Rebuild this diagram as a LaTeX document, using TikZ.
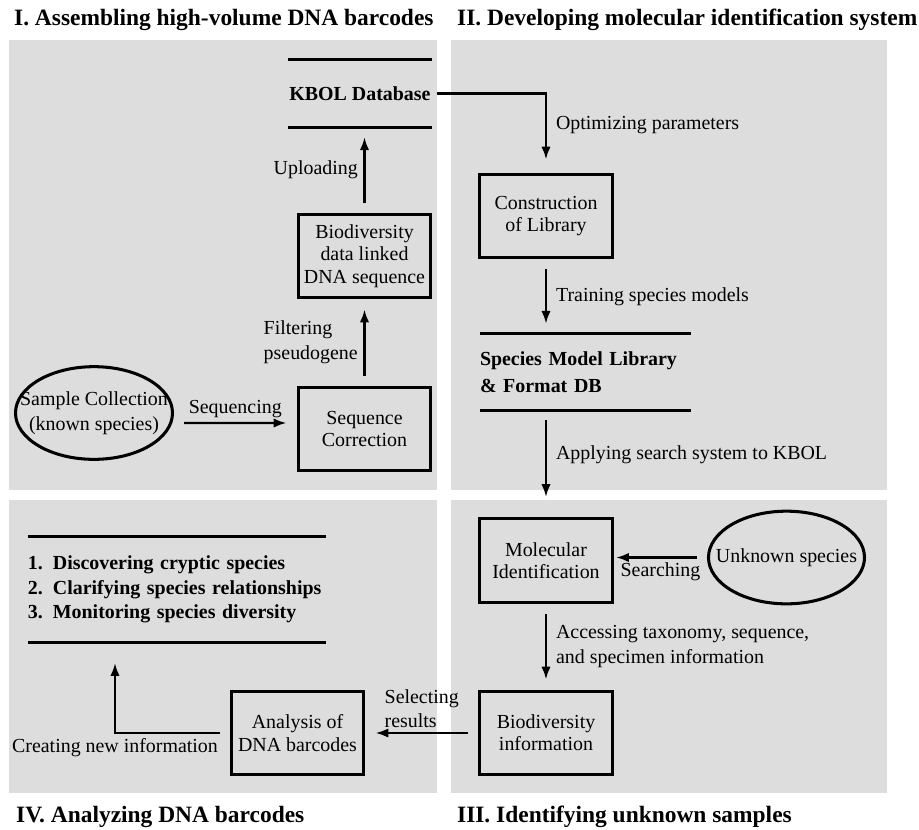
\documentclass[tikz,border=0pt]{standalone}
\usepackage{fontspec}
\setmainfont{Liberation Serif}
\usetikzlibrary{shapes.geometric,arrows.meta}
\definecolor{panel}{RGB}{221,221,221}

\begin{document}
\begin{tikzpicture}[x=0.03cm,y=-0.03cm,
    font=\fontsize{17}{21}\selectfont,
    title/.style={anchor=base west,font=\fontsize{20}{24}\selectfont\bfseries},
    box/.style={draw,line width=2.8pt,minimum width=3.98cm,minimum height=2.51cm,align=center,font=\fontsize{17}{19}\selectfont},
    specimen/.style={draw,ellipse,line width=2.6pt,minimum width=4.68cm,minimum height=2.78cm,inner xsep=-0.55cm,inner ysep=0pt,align=center},
    store/.style={inner xsep=0pt,align=left,font=\fontsize{17}{23}\selectfont\bfseries},
    storeline/.style={line width=2.8pt},
    flow/.style={-{Latex[length=11pt,width=8pt]},line width=2pt,shorten <=0.3cm,shorten >=0.3cm},
    note/.style={align=left}]
        \useasboundingbox (0,0) rectangle (919,829);
        \fill[panel] (9,40) rectangle (437,490);
        \fill[panel] (451,40) rectangle (887,490);
        \fill[panel] (451,500) rectangle (887,793);
        \fill[panel] (9,500) rectangle (437,793);

        \node[title] (tI) at (10,25) {I. Assembling high-volume DNA barcodes};
        \node[title] (tII) at (453,25) {II. Developing molecular identification system};
        \node[title] (tIII) at (453,822) {III. Identifying unknown samples};
        \node[title] (tIV) at (12,822) {IV. Analyzing DNA barcodes};

        \node[store,minimum width=4.29cm,minimum height=2.01cm] (kbol) at (360,93.5) {KBOL Database};
        \node[store,text width=6.33cm,minimum height=2.28cm] (smlib) at (585.5,372) {Species Model Library\\\& Format DB};
        \node[store,text width=8.94cm,minimum height=3.15cm,font=\fontsize{17}{21}\selectfont\bfseries] (uses) at (177,589.5)
            {1. Discovering cryptic species\\2. Clarifying species relationships\\3. Monitoring species diversity};
        \draw[storeline] (kbol.north west) -- (kbol.north east) (kbol.south west) -- (kbol.south east);
        \draw[storeline] (smlib.north west) -- (smlib.north east) (smlib.south west) -- (smlib.south east);
        \draw[storeline] (uses.north west) -- (uses.north east) (uses.south west) -- (uses.south east);

        \node[box] (biolink) at (364.5,256) {Biodiversity\\data linked\\DNA sequence};
        \node[box] (seqcorr) at (364.5,429) {Sequence\\Correction};
        \node[box] (constr) at (546,216) {Construction\\of Library};
        \node[box] (molid) at (546,560.5) {Molecular\\Identification};
        \node[box] (bioinfo) at (546,733) {Biodiversity\\information};
        \node[box] (analysis) at (297.5,733) {Analysis of\\DNA barcodes};
        \node[specimen] (sample) at (94,413) {Sample Collection\\(known species)};
        \node[specimen] (unknown) at (786.5,557.5) {Unknown species};
        \coordinate (usein) at (115,663);

        \draw[flow] ([yshift=-0.3cm]sample.east) -- node[above] {Sequencing} ([yshift=0.18cm]seqcorr.west);
        \draw[flow] (seqcorr.north) -- node[left=0.05cm,note] {Filtering\\pseudogene} (biolink.south);
        \draw[flow] (biolink.north) -- node[left=0.05cm] {Uploading} (biolink.north |- kbol.south);
        \draw[flow,shorten <=0.15cm,shorten >=0.39cm] (kbol.east) -| node[pos=0.7,right=0.15cm] {Optimizing parameters} (constr.north);
        \draw[flow] (constr.south) -- node[right=0.15cm] {Training species models} (constr.south |- smlib.north);
        \draw[flow,shorten >=0.6cm] (smlib.south -| molid.north) -- node[pos=0.42,right=0.15cm] {Applying search system to KBOL} (molid.north);
        \draw[flow,shorten >=0.06cm] (unknown.west) -- node[below=0pt] {Searching} (unknown.west -| molid.east);
        \draw[flow] (molid.south) -- node[right=0.15cm,note] {Accessing taxonomy, sequence,\\and specimen information} (bioinfo.north);
        \draw[flow] (bioinfo.west) -- node[above,note] {Selecting\\results} (analysis.east);
        \draw[flow,shorten >=0pt] (analysis.west) -| node[pos=0.5,below] {Creating new information} (usein);
    \end{tikzpicture}
\end{document}
